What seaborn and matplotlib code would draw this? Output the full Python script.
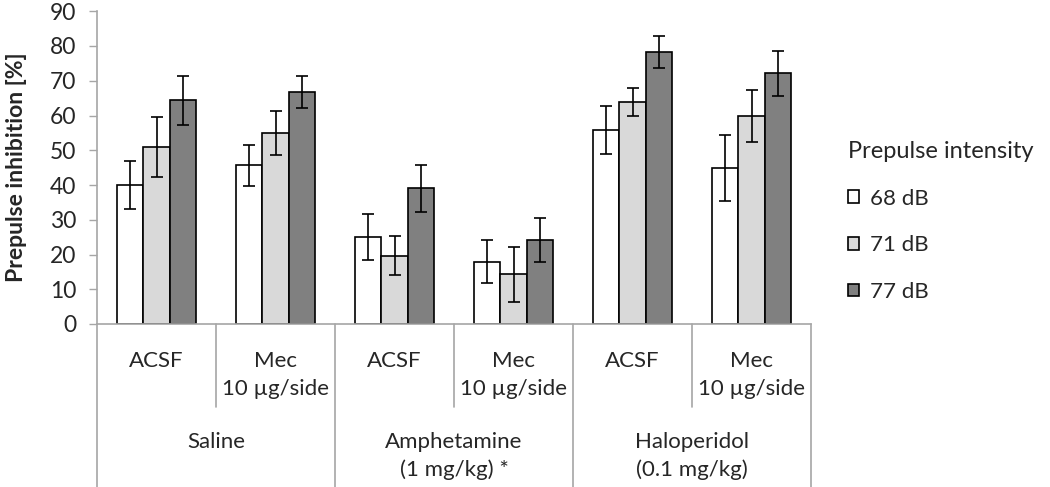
import numpy as np
import pandas as pd
import matplotlib
matplotlib.use("Agg")
import matplotlib.pyplot as plt
import matplotlib.transforms as mtransforms
import seaborn as sns

# --- data ---------------------------------------------------------------
groups = ["Saline", "Amphetamine\n(1 mg/kg) *", "Haloperidol\n(0.1 mg/kg)"]
treatments = ["ACSF", "Mec\n10 µg/side"]
intensities = ["68 dB", "71 dB", "77 dB"]

pi_68 = [40.0, 45.7, 25.0, 17.9, 55.8, 44.9]
pi_71 = [50.9, 54.9, 19.7, 14.3, 63.9, 59.8]
pi_77 = [64.4, 66.8, 39.0, 24.2, 78.3, 72.1]

sem_68 = [6.8, 5.9, 6.6, 6.2, 6.8, 9.5]
sem_71 = [8.7, 6.3, 5.7, 7.9, 4.0, 7.5]
sem_77 = [7.0, 4.7, 6.8, 6.3, 4.6, 6.6]

colors = ["#ffffff", "#d9d9d9", "#808080"]
axis_grey = "#a6a6a6"

# long table for seaborn
conds = [f"{g}|{t}" for g in groups for t in treatments]
rows = []
for lvl, vals in zip(intensities, [pi_68, pi_71, pi_77]):
    for c, v in zip(conds, vals):
        rows.append({"cond": c, "intensity": lvl, "pi": v})
df = pd.DataFrame(rows)
sems = {"68 dB": sem_68, "71 dB": sem_71, "77 dB": sem_77}

sns.set_style("white")
plt.rcParams["font.family"] = ["Lato", "DejaVu Sans"]

fig = plt.figure(figsize=(10.5, 4.87), dpi=100)
ax = fig.add_axes([97 / 1050, 163 / 487, 714 / 1050, 312.75 / 487])

sns.barplot(data=df, x="cond", y="pi", hue="intensity", order=conds,
            hue_order=intensities, palette=colors, width=0.664,
            edgecolor="black", linewidth=1.2, errorbar=None, ax=ax)

# error bars on top of the drawn bars
for cont, lvl in zip(ax.containers, intensities):
    xs = [p.get_x() + p.get_width() / 2 for p in cont.patches]
    hs = [p.get_height() for p in cont.patches]
    ax.errorbar(xs, hs, yerr=sems[lvl], fmt="none", ecolor="black",
                elinewidth=1.2, capsize=4.5, capthick=1.2, zorder=5)

ax.set_ylim(0, 90)
ax.set_xlim(-0.5, len(conds) - 0.5)
ax.set_yticks(np.arange(0, 91, 10))
ax.tick_params(axis="y", labelsize=16.5, length=6, width=1, color=axis_grey,
               left=True, pad=9)
ax.set_xticks([])
ax.set_xlabel("")
ax.set_ylabel("Prepulse inhibition [%]", fontsize=16.5, fontweight="bold",
              labelpad=16)
for s in ["top", "right"]:
    ax.spines[s].set_visible(False)
for s in ["left", "bottom"]:
    ax.spines[s].set_color(axis_grey)
    ax.spines[s].set_linewidth(1.2)

# multi-level category axis
trans = mtransforms.blended_transform_factory(ax.transData, ax.transAxes)
for i in range(len(conds) + 1):
    xb = i - 0.5
    bottom = -0.521 if i % 2 == 0 else -0.265
    ax.plot([xb, xb], [0, bottom], transform=trans, color=axis_grey,
            lw=1.2, clip_on=False)
for i, c in enumerate(conds):
    t = c.split("|")[1]
    ax.text(i, -0.085, t, transform=trans, ha="center", va="top",
            fontsize=16, linespacing=1.5)
for j, g in enumerate(groups):
    ax.text(2 * j + 0.5, -0.345, g, transform=trans, ha="center", va="top",
            fontsize=16, linespacing=1.45)

leg = ax.legend(title="Prepulse intensity", loc="upper left",
                bbox_to_anchor=(828 / 1050, 1 - 121 / 487),
                bbox_transform=fig.transFigure, frameon=False, fontsize=16,
                title_fontsize=17, handlelength=0.5, handleheight=0.5,
                handletextpad=0.5, labelspacing=1.2, alignment="left")
leg.get_title().set_ha("left")

fig.savefig("out.png", dpi=100)
